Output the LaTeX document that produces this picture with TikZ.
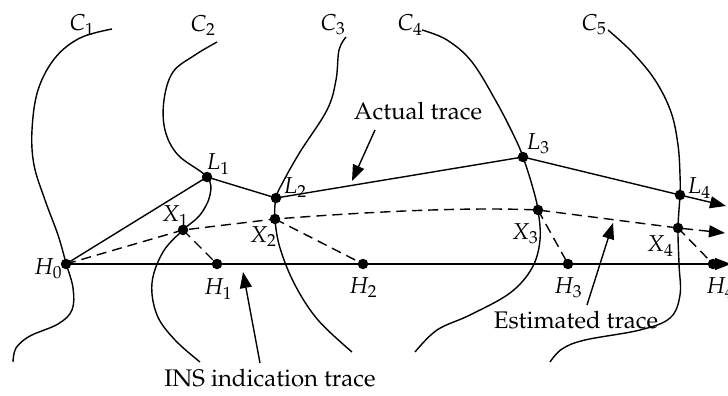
\documentclass[tikz,border=0pt]{standalone}
\usepackage[T1]{fontenc}
\usepackage{mathpazo}
\usetikzlibrary{arrows.meta}
\begin{document}
\begin{tikzpicture}[x=1pt,y=-1pt,
  line width=1.4pt,
  dot/.style={circle,fill,inner sep=0pt,minimum size=10.5pt},
  lbl/.style={inner sep=0pt,font=\fontsize{23}{27}\selectfont},
  txt/.style={inner sep=0pt,font=\fontsize{24}{28}\selectfont},
  tip/.style={-{Triangle[length=16pt,width=12pt]}},
  est/.style={dash pattern=on 10pt off 6pt},
  crv/.style={smooth,tension=0.6}
]
\useasboundingbox (0,0) rectangle (728,396);
% key points
\coordinate (h0) at (66,264);
\coordinate (h1) at (217,264);
\coordinate (h2) at (363,264);
\coordinate (h3) at (568,264);
\coordinate (h4) at (713,264);
\coordinate (l1) at (207,177);
\coordinate (l2) at (276,198);
\coordinate (l3) at (523,157);
\coordinate (l4) at (680,195);
\coordinate (x1) at (183,230);
\coordinate (x2) at (275,219);
\coordinate (x3) at (538,210);
\coordinate (x4) at (678,228);
\coordinate (axend) at (731,264);
\coordinate (lend) at (726,206);
\coordinate (xend) at (725,233);
% contour curves
\draw plot[crv] coordinates {(112,29) (80,38) (55,58) (38,90) (32,130) (34,165) (45,200) (58,235) (66,263) (73,288) (72,310) (58,324) (30,336) (16,348) (13,362)};
\draw plot[crv] coordinates {(217,42) (195,55) (173,72) (164,100) (165,130) (178,155) (207,177) (210,195) (200,215) (183,230) (163,252) (152,283) (157,315) (175,340) (200,362)};
\draw plot[crv] coordinates {(346,37) (339,50) (336,80) (327,110) (300,152) (283,182) (276,198) (275,219) (280,248) (295,285) (318,320) (352,352)};
\draw plot[crv] coordinates {(422,30) (447,40) (472,62) (497,103) (515,138) (523,157) (532,185) (538,210) (540,240) (532,268) (510,293) (470,315) (437,330) (415,352)};
\draw plot[crv] coordinates {(608,30) (632,52) (655,80) (671,112) (678,145) (680,175) (680,195) (678,228) (679,264) (680,295) (670,318) (640,330) (585,340) (562,349) (550,362)};
% INS indication trace
\draw[tip] (h0) -- (axend);
% actual trace
\draw[tip] (h0) -- (l1) -- (l2) -- (l3) -- (l4) -- (lend);
% estimated trace
\draw[est,tip] (h0) -- (x1) -- (x2) .. controls (380,211) and (470,207) .. (x3) -- (x4) -- (xend);
\draw[est] (x1) -- (h1);
\draw[est] (x2) -- (h2);
\draw[est] (x3) -- (h3);
\draw[est] (x4) -- (h4);
% dots
\foreach \p in {h0,h1,h2,h3,h4,l1,l2,l3,l4,x1,x2,x3,x4}
  \node[dot] (d\p) at (\p) {};
% labels
\node[lbl] (c1) at (82,25) {$C_1$};
\node[lbl] (c2) at (203,25) {$C_2$};
\node[lbl] (c3) at (333,25) {$C_3$};
\node[lbl] (c4) at (410,25) {$C_4$};
\node[lbl] (c5) at (594,25) {$C_5$};
\node[lbl] (tl1) at (218,164) {$L_1$};
\node[lbl] (tl2) at (295,188) {$L_2$};
\node[lbl] (tl3) at (538,144) {$L_3$};
\node[lbl] (tl4) at (699,188) {$L_4$};
\node[lbl] (tx1) at (175,216) {$X_1$};
\node[lbl] (tx2) at (263,237) {$X_2$};
\node[lbl] (tx3) at (525,234) {$X_3$};
\node[lbl] (tx4) at (660,246) {$X_4$};
\node[lbl] (th0) at (48,269) {$H_0$};
\node[lbl] (th1) at (218,289) {$H_1$};
\node[lbl] (th2) at (363,288) {$H_2$};
\node[lbl] (th3) at (568,288) {$H_3$};
\node[lbl] (th4) at (720,288) {$H_4$};
% text labels with pointers
\node[txt] (tact) at (418,111) {Actual trace};
\node[txt] (test) at (576,320) {Estimated trace};
\node[txt] (tins) at (270,378) {INS indication trace};
\coordinate (a1) at (375,130);
\coordinate (a2) at (352,181);
\coordinate (e1) at (587,305);
\coordinate (e2) at (613,223);
\coordinate (i1) at (260,363);
\coordinate (i2) at (243,272);
\draw[tip] (a1) -- (a2);
\draw[tip] (e1) -- (e2);
\draw[tip] (i1) -- (i2);
\end{tikzpicture}
\end{document}
